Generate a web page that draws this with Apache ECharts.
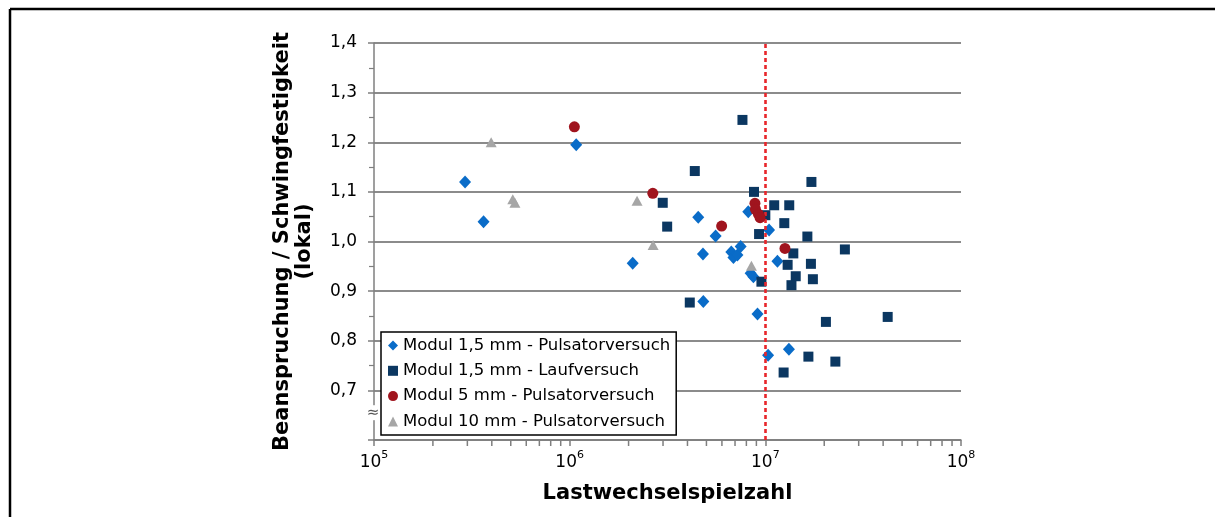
<!DOCTYPE html>
<html>
<head>
<meta charset="utf-8">
<script src="https://cdn.jsdelivr.net/npm/echarts@6/dist/echarts.min.js"></script>
<style>
  html, body { margin: 0; padding: 0; background: #fff; }
  #chart { width: 1215px; height: 517px; }
</style>
</head>
<body>
<div id="chart"></div>
<script>
// Lastwechselspielzahl [-] vs. Beanspruchung / Schwingfestigkeit (lokal) [-]
const modul15Pulsator = [
  [2.92e5, 1.120], [3.63e5, 1.040], [1.08e6, 1.195], [2.10e6, 0.956],
  [4.54e6, 1.049], [4.80e6, 0.975], [4.82e6, 0.879], [5.57e6, 1.011],
  [6.70e6, 0.979], [6.87e6, 0.968], [7.20e6, 0.973], [7.48e6, 0.990],
  [8.18e6, 1.060], [8.41e6, 0.936], [8.69e6, 0.929], [9.12e6, 0.854],
  [1.045e7, 1.023], [1.153e7, 0.960], [1.033e7, 0.771], [1.32e7, 0.783]
];
const modul15Lauf = [
  [4.11e6, 0.877], [4.36e6, 1.142], [2.99e6, 1.078], [3.15e6, 1.030],
  [7.64e6, 1.245], [8.75e6, 1.100], [9.29e6, 1.015], [9.55e6, 0.919],
  [1.00e7, 1.053], [1.11e7, 1.073], [1.325e7, 1.073], [1.25e7, 1.037],
  [1.72e7, 1.120], [1.64e7, 1.010], [2.55e7, 0.984], [1.39e7, 0.976],
  [1.30e7, 0.953], [1.71e7, 0.955], [1.43e7, 0.930], [1.75e7, 0.924],
  [1.36e7, 0.912], [2.04e7, 0.838], [4.22e7, 0.848], [1.66e7, 0.768],
  [2.28e7, 0.758], [1.24e7, 0.736]
];
const modul5Pulsator = [
  [1.057e6, 1.231], [2.66e6, 1.097], [5.98e6, 1.031], [8.85e6, 1.077],
  [8.90e6, 1.065], [9.22e6, 1.055], [9.40e6, 1.048], [1.26e7, 0.986]
];
const modul10Pulsator = [
  [3.97e5, 1.200], [5.12e5, 1.085], [5.25e5, 1.078], [2.21e6, 1.082],
  [2.67e6, 0.993], [8.49e6, 0.951]
];
const seriesNames = [
  'Modul 1,5 mm - Pulsatorversuch',
  'Modul 1,5 mm - Laufversuch',
  'Modul 5 mm - Pulsatorversuch',
  'Modul 10 mm - Pulsatorversuch'
];
// Dauerfestigkeitsgrenze
const limitCycles = 1e7;
// axis ranges and ticks
const xMin = 1e5, xMax = 1e8;
const yMin = 0.6, yMax = 1.4, yStep = 0.1;
const xMinorTicks = [];
for (let e = 5; e < 8; e++) for (let m = 2; m <= 9; m++) xMinorTicks.push(m * Math.pow(10, e));
const yBreakAt = 0.655;

const FONT = 'DejaVu Sans, Verdana, sans-serif';
const chart = echarts.init(document.getElementById('chart'), null, { renderer: 'canvas' });

const axisGray = '#7f7f7f';

chart.setOption({
  animation: false,
  backgroundColor: '#fff',
  textStyle: { fontFamily: FONT },
  graphic: [
    { type: 'line', shape: { x1: 10, y1: 9, x2: 1215, y2: 9 }, style: { stroke: '#000', lineWidth: 2.5 } },
    { type: 'line', shape: { x1: 10, y1: 9, x2: 10, y2: 517 }, style: { stroke: '#000', lineWidth: 2.5 } }
  ],
  grid: { left: 374, right: 254, top: 43, bottom: 77, containLabel: false },
  legend: {
    orient: 'vertical',
    left: 381, top: 332,
    padding: [5, 6, 5, 7],
    itemGap: 8.3,
    itemWidth: 10, itemHeight: 10,
    borderColor: '#000', borderWidth: 1.5,
    backgroundColor: '#fff',
    textStyle: { fontFamily: FONT, fontSize: 16.5, color: '#000' },
    data: [
      { name: seriesNames[0], icon: 'diamond' },
      { name: seriesNames[1], icon: 'rect' },
      { name: seriesNames[2], icon: 'circle' },
      { name: seriesNames[3], icon: 'triangle' }
    ]
  },
  xAxis: {
    type: 'log', logBase: 10, min: xMin, max: xMax,
    name: 'Lastwechselspielzahl', nameLocation: 'middle', nameGap: 43,
    nameTextStyle: { fontFamily: FONT, fontSize: 21, fontWeight: 'bold', color: '#000' },
    axisLine: { lineStyle: { color: axisGray, width: 1.5 } },
    axisTick: { show: true, length: 6, lineStyle: { color: axisGray, width: 1.5 } },
    splitLine: { show: false },
    axisLabel: {
      margin: 10,
      formatter: v => '{b|10}{s|' + Math.round(Math.log10(v)) + '}',
      rich: {
        b: { fontFamily: FONT, fontSize: 17, color: '#000', verticalAlign: 'bottom' },
        s: { fontFamily: FONT, fontSize: 11, color: '#000', verticalAlign: 'top', padding: [0, 0, 10, 0] }
      }
    }
  },
  yAxis: {
    type: 'value', min: yMin, max: yMax, interval: yStep,
    name: 'Beanspruchung / Schwingfestigkeit\n(lokal)', nameLocation: 'middle', nameGap: 58,
    nameRotate: 90,
    nameTextStyle: { fontFamily: FONT, fontSize: 21, fontWeight: 'bold', color: '#000', lineHeight: 22 },
    axisLine: { show: true, lineStyle: { color: axisGray, width: 1.5 } },
    axisTick: { show: true, length: 6, lineStyle: { color: axisGray, width: 1.5 } },
    minorTick: { show: true, splitNumber: 2, length: 5, lineStyle: { color: axisGray, width: 1.2 } },
    splitLine: { show: true, lineStyle: { color: '#646464', width: 1.6 } },
    axisLabel: {
      margin: 17,
      fontFamily: FONT, fontSize: 17, color: '#000',
      formatter: v => (Math.abs(v - yMin) < 1e-6 ? '' : v.toFixed(1).replace('.', ','))
    }
  },
  series: [
    {
      name: seriesNames[0], type: 'scatter', data: modul15Pulsator,
      symbol: 'diamond', symbolSize: [12, 13],
      itemStyle: { color: '#0a6cc8', opacity: 1 }, z: 3,
      markLine: {
        silent: true, symbol: 'none', label: { show: false },
        lineStyle: { color: '#e8262b', width: 2.6, type: [4, 3] },
        data: [{ xAxis: limitCycles }]
      }
    },
    {
      name: seriesNames[1], type: 'scatter', data: modul15Lauf,
      symbol: 'rect', symbolSize: 10,
      itemStyle: { color: '#0b3761', opacity: 1 }, z: 4
    },
    {
      name: seriesNames[2], type: 'scatter', data: modul5Pulsator,
      symbol: 'circle', symbolSize: 11,
      itemStyle: { color: '#a0141e', opacity: 1 }, z: 5
    },
    {
      name: seriesNames[3], type: 'scatter', data: modul10Pulsator,
      symbol: 'triangle', symbolSize: [11, 10],
      itemStyle: { color: '#a6a6a6', opacity: 1 }, z: 5
    },
    {
      // minor ticks of the logarithmic axis (2..9 per decade)
      type: 'custom', silent: true, clip: false, z: 2,
      data: xMinorTicks.map(v => [v, yMin]),
      renderItem: (params, api) => {
        const p = api.coord([api.value(0), api.value(1)]);
        return {
          type: 'line',
          shape: { x1: p[0], y1: p[1], x2: p[0], y2: p[1] + 6 },
          style: { stroke: axisGray, lineWidth: 1.5 }
        };
      }
    },
    {
      // axis break glyph on the value axis
      type: 'custom', silent: true, clip: false, z: 6,
      data: [[xMin, yBreakAt]],
      renderItem: (params, api) => {
        const p = api.coord([api.value(0), api.value(1)]);
        return {
          type: 'text',
          x: p[0] - 1, y: p[1],
          style: {
            text: '≈', fontFamily: 'DejaVu Sans', fontSize: 15, fill: '#555',
            align: 'center', verticalAlign: 'middle', backgroundColor: '#fff'
          }
        };
      }
    }
  ]
});
</script>
</body>
</html>
